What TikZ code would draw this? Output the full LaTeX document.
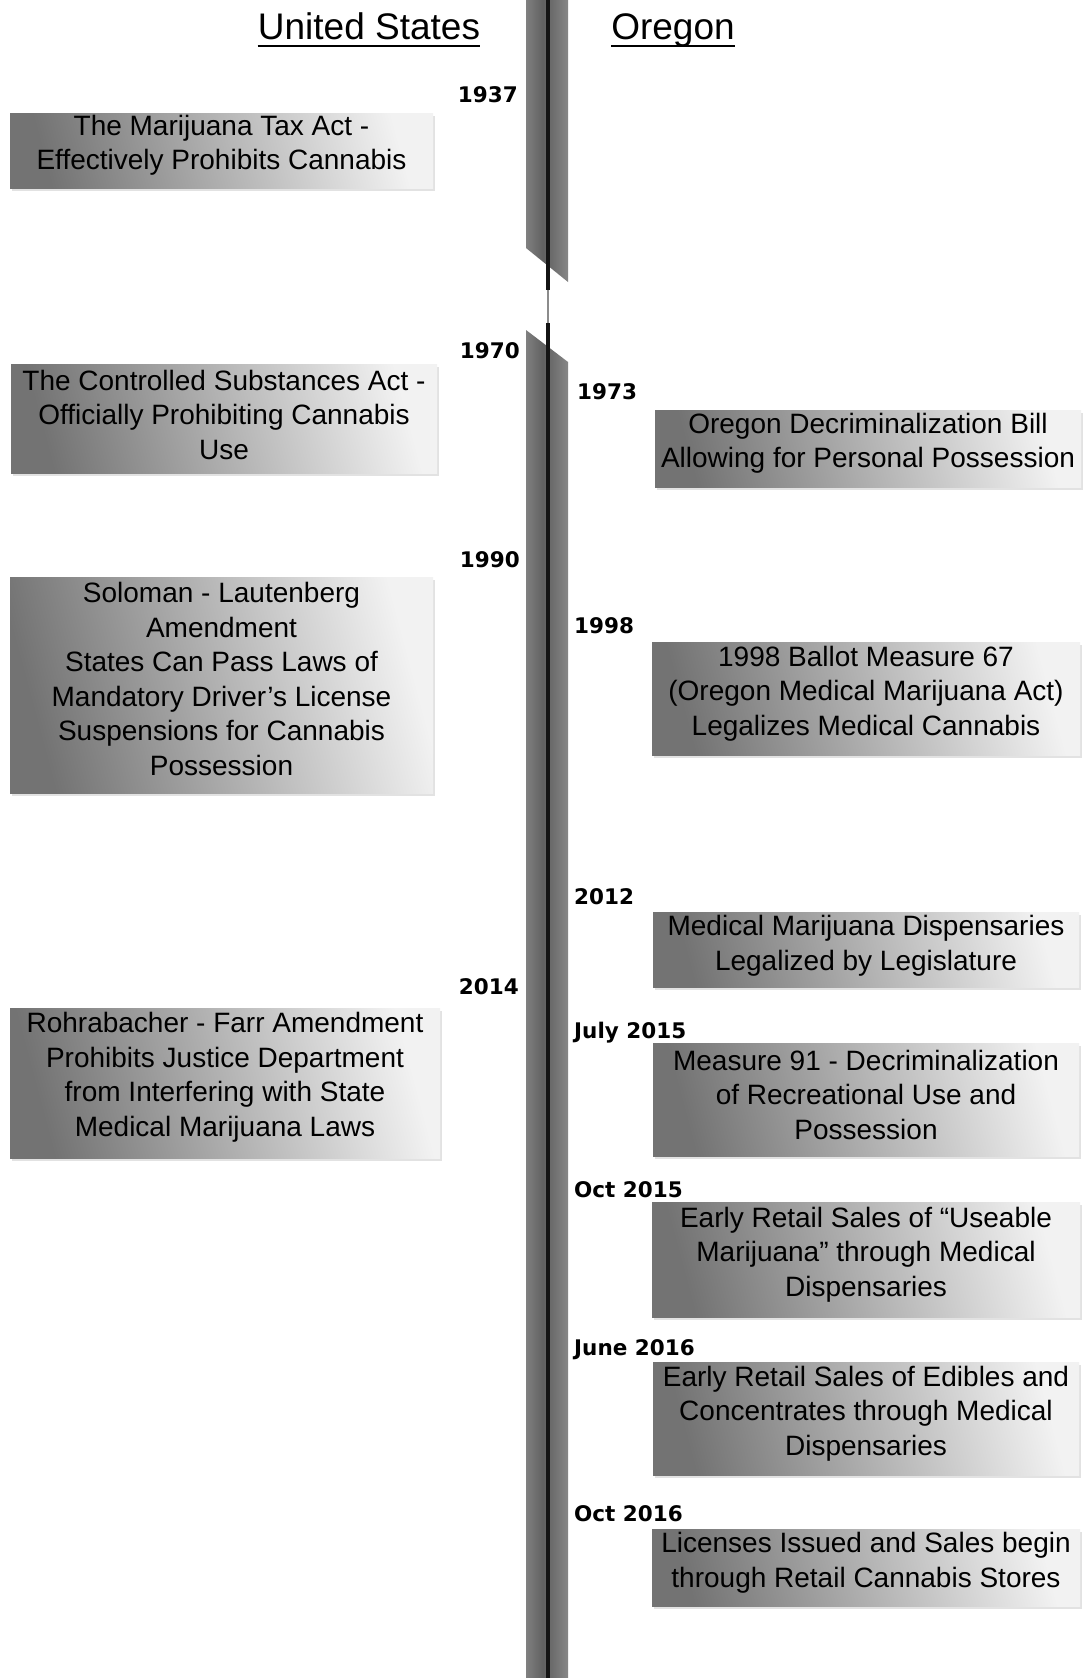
\documentclass[tikz,border=0pt]{standalone}
\usepackage{fontspec}
\setmainfont{Liberation Sans}
\newfontfamily\yearfont{DejaVu Sans}
\usetikzlibrary{shadows}
\pgfdeclarehorizontalshading{barshade}{100bp}{color(0bp)=(black!80); color(12bp)=(black!42); color(45bp)=(black!62); color(55bp)=(black!58); color(88bp)=(black!40); color(100bp)=(black!78)}
\begin{document}
\begin{tikzpicture}[x=1pt,y=-1pt,
  evbox/.style={rectangle, inner sep=0pt, left color=black!55, right color=black!5, shading angle=105,
    drop shadow={shadow xshift=2pt, shadow yshift=-3pt, opacity=0.25, fill=black!45}},
  evtext/.style={align=center, font=\fontsize{28}{34.5}\selectfont, inner sep=0pt},
  yr/.style={font=\yearfont\bfseries\fontsize{21.5}{25}\selectfont, inner sep=0pt},
  hdr/.style={font=\fontsize{37}{44}\selectfont, inner sep=0pt, anchor=base},
  spine/.style={line width=4.5pt, black!92},
  gapline/.style={line width=1.5pt, black!45}]
\useasboundingbox (0,0) rectangle (1083,1678);
\fill[white] (0,0) rectangle (1083,1678);

% timeline
\shade[shading=barshade] (526,0) -- (568,0) -- (568,282) -- (526,248) -- cycle;
\shade[shading=barshade] (526,330) -- (568,362) -- (568,1678) -- (526,1678) -- cycle;
\coordinate (t0) at (548,0);
\coordinate (t1) at (548,290);
\coordinate (t2) at (548,323);
\coordinate (t3) at (548,1678);
\draw[spine] (t0) -- (t1);
\draw[gapline] (t1) -- (t2);
\draw[spine] (t2) -- (t3);

% headers
\node[hdr] (us) at (369,40) {United States};
\node[hdr] (or) at (673,40) {Oregon};
\draw[line width=2.2pt] ([yshift=-6pt]us.base west) -- ([yshift=-6pt]us.base east);
\draw[line width=2.2pt] ([yshift=-6pt]or.base west) -- ([yshift=-6pt]or.base east);

% boxes
\node[evbox, minimum width=423pt, minimum height=75pt] (b1) at (221.5,150.5) {};
\node[evbox, minimum width=426pt, minimum height=109pt] (b2) at (224,418.5) {};
\node[evbox, minimum width=426pt, minimum height=77pt] (b3) at (868,448.5) {};
\node[evbox, minimum width=423pt, minimum height=216pt] (b4) at (221.5,685) {};
\node[evbox, minimum width=428pt, minimum height=113pt] (b5) at (866,698.5) {};
\node[evbox, minimum width=426pt, minimum height=75pt] (b6) at (866,949.5) {};
\node[evbox, minimum width=430pt, minimum height=150pt] (b7) at (225,1083) {};
\node[evbox, minimum width=426pt, minimum height=113pt] (b8) at (866,1099.5) {};
\node[evbox, minimum width=428pt, minimum height=115pt] (b9) at (866,1259.5) {};
\node[evbox, minimum width=426pt, minimum height=113pt] (b10) at (866,1418.5) {};
\node[evbox, minimum width=428pt, minimum height=77pt] (b11) at (866,1567.5) {};

\node[evtext] (x1) at ([yshift=5pt]b1.center) {The Marijuana Tax Act -\\Effectively Prohibits Cannabis};
\node[evtext] (x2) at ([yshift=4pt]b2.center) {The Controlled Substances Act -\\Officially Prohibiting Cannabis\\Use};
\node[evtext] (x3) at ([yshift=5pt]b3.center) {Oregon Decriminalization Bill\\Allowing for Personal Possession};
\node[evtext] (x4) at ([yshift=6pt]b4.center) {Soloman - Lautenberg\\Amendment\\States Can Pass Laws of\\Mandatory Driver’s License\\Suspensions for Cannabis\\Possession};
\node[evtext] (x5) at ([yshift=5pt]b5.center) {1998 Ballot Measure 67\\(Oregon Medical Marijuana Act)\\Legalizes Medical Cannabis};
\node[evtext] (x6) at ([yshift=4pt]b6.center) {Medical Marijuana Dispensaries\\Legalized by Legislature};
\node[evtext] (x7) at ([yshift=6pt]b7.center) {Rohrabacher - Farr Amendment\\Prohibits Justice Department\\from Interfering with State\\Medical Marijuana Laws};
\node[evtext] (x8) at ([yshift=5pt]b8.center) {Measure 91 - Decriminalization\\of Recreational Use and\\Possession};
\node[evtext] (x9) at ([yshift=5pt]b9.center) {Early Retail Sales of “Useable\\Marijuana” through Medical\\Dispensaries};
\node[evtext] (x10) at ([yshift=5pt]b10.center) {Early Retail Sales of Edibles and\\Concentrates through Medical\\Dispensaries};
\node[evtext] (x11) at ([yshift=5pt]b11.center) {Licenses Issued and Sales begin\\through Retail Cannabis Stores};

% year labels
\node[yr, anchor=base east] (y1937) at (518,102) {1937};
\node[yr, anchor=base east] (y1970) at (520,358) {1970};
\node[yr, anchor=base east] (y1990) at (520,567) {1990};
\node[yr, anchor=base east] (y2014) at (519,994) {2014};
\node[yr, anchor=base west] (y1973) at (577,399) {1973};
\node[yr, anchor=base west] (y1998) at (574,633) {1998};
\node[yr, anchor=base west] (y2012) at (574,904) {2012};
\node[yr, anchor=base west] (y2015a) at (574,1038) {July 2015};
\node[yr, anchor=base west] (y2015b) at (574,1197) {Oct 2015};
\node[yr, anchor=base west] (y2016a) at (574,1355) {June 2016};
\node[yr, anchor=base west] (y2016b) at (574,1521) {Oct 2016};
\end{tikzpicture}
\end{document}
